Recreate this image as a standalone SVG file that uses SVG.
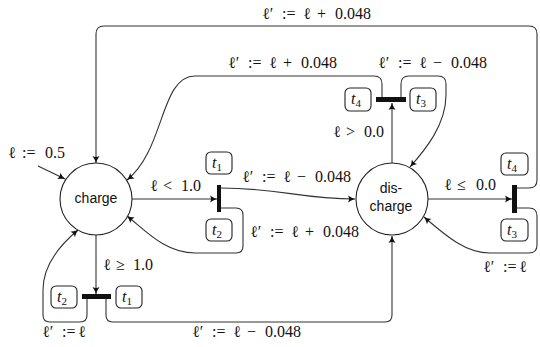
<svg xmlns="http://www.w3.org/2000/svg" width="540" height="347" viewBox="0 0 540 347">
<style>
.m{font-family:"Liberation Serif","DejaVu Serif",serif;font-size:16px;fill:#111}
.s{font-family:"Liberation Sans","DejaVu Sans",sans-serif;font-size:14px;fill:#111;text-anchor:middle}
.st{fill:#fff;stroke:#222;stroke-width:1.1}
.bx{fill:#fff;stroke:#222;stroke-width:1.1}
.bar{fill:#111}
.c{fill:none;stroke:#333;stroke-width:1.1;marker-end:url(#ah)}
.t{font-family:"Liberation Serif","DejaVu Serif",serif;font-size:16px;font-style:italic;fill:#111;text-anchor:middle}
.sub{font-size:11px;font-style:normal}
</style>
<defs>
<marker id="ah" viewBox="-8 -4 9 8" refX="0" refY="0" markerWidth="9" markerHeight="8" orient="auto" markerUnits="userSpaceOnUse">
<path d="M-7,-3.5 Q-3,-0.8 0,0 Q-3,0.8 -7,3.5 Q-5,0 -7,-3.5z" fill="#111"/>
</marker>
</defs>

<g id="connectors">
<path class="c" d="M38,166 L65,179"/>
<path class="c" d="M132,199 L217,199"/>
<path class="c" d="M221,188 C280,188 300,199 355,199"/>
<path class="c" d="M221,208 L236,208 Q243,208 243,215 L243,246 Q243,253 236,253 L195,253 C165,253 145,230 127,216"/>
<path class="c" d="M96,235 L96,294"/>
<path class="c" d="M87,299 L87,315 Q87,322 80,322 L50,322 Q43,322 43,315 L43,290 C43,265 60,245 78,230"/>
<path class="c" d="M106,299 L106,315 Q106,322 113,322 L385,322 Q392,322 392,315 L392,236"/>
<path class="c" d="M392,163 L392,103"/>
<path class="c" d="M382,97 L382,84 Q382,76 374,76 L195,76 C160,76 165,150 127,180"/>
<path class="c" d="M401,97 L401,84 Q401,76 409,76 L438,76 Q446,76 446,84 L446,95 C446,125 425,150 410,167"/>
<path class="c" d="M428,199 L512,199"/>
<path class="c" d="M517,188 L529,188 Q537,188 537,180 L537,34 Q537,26 529,26 L104,26 Q96,26 96,34 L96,163"/>
<path class="c" d="M517,208 L529,208 Q537,208 537,216 L537,245 Q537,253 529,253 L490,253 C465,253 445,235 424,217"/>
</g>

<g id="labels">
<text class="m" y="158"><tspan x="8">ℓ</tspan><tspan x="22">:=</tspan><tspan x="45">0.5</tspan></text>
<text class="m" y="19"><tspan x="262">ℓ′</tspan><tspan x="282">:=</tspan><tspan x="303">ℓ</tspan><tspan x="317">+</tspan><tspan x="335">0.048</tspan></text>
<text class="m" y="68"><tspan x="228">ℓ′</tspan><tspan x="248">:=</tspan><tspan x="269">ℓ</tspan><tspan x="283">+</tspan><tspan x="301">0.048</tspan></text>
<text class="m" y="68"><tspan x="378">ℓ′</tspan><tspan x="398">:=</tspan><tspan x="419">ℓ</tspan><tspan x="433">−</tspan><tspan x="451">0.048</tspan></text>
<text class="m" y="137"><tspan x="333">ℓ</tspan><tspan x="346">&gt;</tspan><tspan x="364">0.0</tspan></text>
<text class="m" y="191"><tspan x="150">ℓ</tspan><tspan x="163">&lt;</tspan><tspan x="181">1.0</tspan></text>
<text class="m" y="182"><tspan x="242">ℓ′</tspan><tspan x="262">:=</tspan><tspan x="283">ℓ</tspan><tspan x="297">−</tspan><tspan x="315">0.048</tspan></text>
<text class="m" y="237"><tspan x="250">ℓ′</tspan><tspan x="270">:=</tspan><tspan x="291">ℓ</tspan><tspan x="305">+</tspan><tspan x="323">0.048</tspan></text>
<text class="m" y="270"><tspan x="103">ℓ</tspan><tspan x="116">≥</tspan><tspan x="133">1.0</tspan></text>
<text class="m" y="190"><tspan x="444">ℓ</tspan><tspan x="457">≤</tspan><tspan x="476">0.0</tspan></text>
<text class="m" y="337"><tspan x="42">ℓ′</tspan><tspan x="62">:=</tspan><tspan x="78">ℓ</tspan></text>
<text class="m" y="337"><tspan x="192">ℓ′</tspan><tspan x="212">:=</tspan><tspan x="233">ℓ</tspan><tspan x="247">−</tspan><tspan x="265">0.048</tspan></text>
<text class="m" y="272"><tspan x="483">ℓ′</tspan><tspan x="503">:=</tspan><tspan x="519">ℓ</tspan></text>
</g>

<g id="charge">
<circle class="st" cx="96" cy="199" r="36"/>
<text class="s" x="96" y="203">charge</text>
</g>
<g id="discharge">
<circle class="st" cx="392" cy="199" r="36"/>
<text class="s" x="391" y="193">dis-</text>
<text class="s" x="391" y="211">charge</text>
</g>

<g id="bar-charge-right">
<rect class="bar" x="217" y="185" width="4" height="27"/>
<rect class="bx" x="206" y="152" width="26" height="22" rx="5"/>
<text class="t" x="217" y="168">t<tspan class="sub" dy="3">1</tspan></text>
<rect class="bx" x="206" y="219" width="26" height="22" rx="5"/>
<text class="t" x="217" y="235">t<tspan class="sub" dy="3">2</tspan></text>
</g>

<g id="bar-charge-bottom">
<rect class="bar" x="82" y="294" width="29" height="5"/>
<rect class="bx" x="51" y="286" width="26" height="22" rx="5"/>
<text class="t" x="62" y="302">t<tspan class="sub" dy="3">2</tspan></text>
<rect class="bx" x="116" y="286" width="26" height="22" rx="5"/>
<text class="t" x="127" y="302">t<tspan class="sub" dy="3">1</tspan></text>
</g>

<g id="bar-discharge-top">
<rect class="bar" x="376" y="97" width="30" height="5"/>
<rect class="bx" x="345" y="88" width="26" height="23" rx="5"/>
<text class="t" x="356" y="104">t<tspan class="sub" dy="3">4</tspan></text>
<rect class="bx" x="410" y="88" width="26" height="23" rx="5"/>
<text class="t" x="421" y="104">t<tspan class="sub" dy="3">3</tspan></text>
</g>

<g id="bar-discharge-right">
<rect class="bar" x="512" y="185" width="5" height="28"/>
<rect class="bx" x="501" y="153" width="27" height="22" rx="5"/>
<text class="t" x="512" y="169">t<tspan class="sub" dy="3">4</tspan></text>
<rect class="bx" x="501" y="219" width="27" height="22" rx="5"/>
<text class="t" x="512" y="235">t<tspan class="sub" dy="3">3</tspan></text>
</g>
</svg>
